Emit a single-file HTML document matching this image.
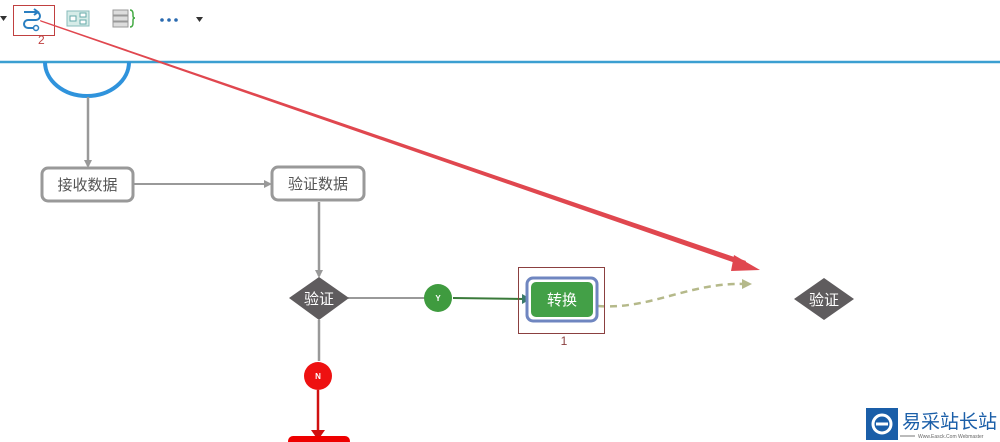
<!DOCTYPE html>
<html><head><meta charset="utf-8"><style>
body{margin:0;width:1000px;height:442px;background:#fff;overflow:hidden;position:relative;font-family:"Liberation Sans","Noto Sans CJK SC",sans-serif}
</style></head><body>
<svg width="1000" height="442" style="position:absolute;left:0;top:0" font-family="Liberation Sans, Noto Sans CJK SC, sans-serif">
<defs>
<marker id="ag" markerWidth="8" markerHeight="8" refX="6" refY="4" orient="auto" markerUnits="userSpaceOnUse"><path d="M0,0L8,4L0,8z" fill="#999"/></marker>
</defs>
<!-- toolbar -->
<path d="M0,16 L7,16 L3.5,21z" fill="#333"/>
<rect x="13.5" y="5.5" width="41" height="30" fill="none" stroke="#c04040" stroke-width="1"/>
<path d="M24,12 h12 a4,4 0 0 1 0,8 h-8 a4,4 0 0 0 0,8 h6" fill="none" stroke="#2a7fc1" stroke-width="2"/>
<path d="M34,9 l4,3 l-4,3" fill="none" stroke="#2a7fc1" stroke-width="2"/>
<circle cx="36" cy="28" r="2.5" fill="none" stroke="#2a7fc1" stroke-width="1.5"/>
<text x="38" y="44" font-size="12" fill="#c04040">2</text>
<rect x="67" y="11" width="22" height="15" fill="#d6ece8" stroke="#8bb"/>
<rect x="70" y="16" width="6" height="5" fill="#fff" stroke="#6aa"/><rect x="80" y="13" width="6" height="4" fill="#fff" stroke="#6aa"/><rect x="80" y="20" width="6" height="4" fill="#fff" stroke="#6aa"/>
<rect x="113" y="10" width="15" height="5" fill="#ddd" stroke="#999"/><rect x="113" y="16" width="15" height="5" fill="#ddd" stroke="#999"/><rect x="113" y="22" width="15" height="5" fill="#ddd" stroke="#999"/>
<path d="M130,10 q3,0 3,4 v2 q0,2 2,2 q-2,0 -2,2 v3 q0,4 -3,4" fill="none" stroke="#4a4" stroke-width="1.5"/>
<circle cx="162" cy="20" r="1.8" fill="#2a6ab0"/><circle cx="169" cy="20" r="1.8" fill="#2a6ab0"/><circle cx="176" cy="20" r="1.8" fill="#2a6ab0"/>
<path d="M196,17 L203,17 L199.5,22z" fill="#333"/>
<line x1="0" y1="62" x2="1000" y2="62" stroke="#3b9fd1" stroke-width="2.5"/>
<path d="M45,62 A42,34 0 0 0 129,62" fill="none" stroke="#2f93dc" stroke-width="4"/>
<!-- connectors -->
<line x1="88" y1="97" x2="88" y2="166" stroke="#999" stroke-width="2.5" marker-end="url(#ag)"/>
<line x1="133" y1="184" x2="270" y2="184" stroke="#999" stroke-width="2" marker-end="url(#ag)"/>
<line x1="319" y1="202" x2="319" y2="276" stroke="#999" stroke-width="2.5" marker-end="url(#ag)"/>
<line x1="348" y1="298" x2="425" y2="298" stroke="#999" stroke-width="2"/>
<line x1="453" y1="298" x2="524" y2="299" stroke="#3a7a3a" stroke-width="2"/>
<path d="M522,294 L531,299 L522,304z" fill="#3a7a6a"/>
<line x1="319" y1="320" x2="319" y2="361" stroke="#999" stroke-width="2.5"/>
<line x1="318" y1="390" x2="318" y2="435" stroke="#d01010" stroke-width="2.5"/>
<path d="M311,430 L318,440 L325,430z" fill="#d01010"/>
<rect x="288" y="436" width="62" height="10" rx="5" fill="#e00"/>
<path d="M598,306 C650,310 690,282 745,284" fill="none" stroke="#b5b98a" stroke-width="2.5" stroke-dasharray="7,5"/>
<path d="M742,279 L752,284 L742,289z" fill="#b5b98a"/>
<!-- nodes -->
<rect x="42" y="168" width="91" height="33" rx="6" fill="#fff" stroke="#999" stroke-width="3"/>
<text x="87.5" y="190" font-size="15" fill="#555" text-anchor="middle">接收数据</text>
<rect x="272" y="167" width="92" height="33" rx="6" fill="#fff" stroke="#999" stroke-width="3"/>
<text x="318" y="189" font-size="15" fill="#555" text-anchor="middle">验证数据</text>
<path d="M319,277 L349,298 L319,320 L289,298z" fill="#5f5c5e"/>
<text x="319" y="304" font-size="15" fill="#fff" text-anchor="middle">验证</text>
<circle cx="438" cy="298" r="14" fill="#3f9b3f"/>
<text x="438" y="301" font-size="8" fill="#fff" text-anchor="middle" font-weight="bold">Y</text>
<circle cx="318" cy="376" r="14" fill="#ee1111"/>
<text x="318" y="379" font-size="8" fill="#fff" text-anchor="middle" font-weight="bold">N</text>
<rect x="518.5" y="267.5" width="86" height="66" fill="none" stroke="#8b4040" stroke-width="1"/>
<rect x="527" y="278" width="70" height="43" rx="6" fill="#fff" stroke="#6f86c0" stroke-width="3"/>
<rect x="531" y="282" width="62" height="35" rx="5" fill="#43a047"/>
<text x="562" y="305" font-size="15" fill="#fff" text-anchor="middle">转换</text>
<text x="564" y="345" font-size="12" fill="#8b4040" text-anchor="middle">1</text>
<path d="M824,278 L854,299 L824,320 L794,299z" fill="#5f5c5e"/>
<text x="824" y="305" font-size="15" fill="#fff" text-anchor="middle">验证</text>
<!-- red arrow (tapered) -->
<path d="M40,20 L40.4,21.5 L744,266 L746,261 z" fill="#e0474f"/>
<path d="M734,255 L760,270 L731,271z" fill="#e0474f"/>
<!-- logo -->
<rect x="866" y="408" width="32" height="32" fill="#1a5ea8"/>
<circle cx="882" cy="424" r="9" fill="none" stroke="#fff" stroke-width="3"/>
<line x1="876" y1="424" x2="888" y2="424" stroke="#fff" stroke-width="3"/>
<text x="902" y="428" font-size="19" fill="#1a5ea8">易采站长站</text>
<line x1="900" y1="436" x2="915" y2="436" stroke="#555" stroke-width="0.8"/>
<text x="918" y="438" font-size="5" fill="#666">Www.Easck.Com Webmaster</text>
</svg>
</body></html>
